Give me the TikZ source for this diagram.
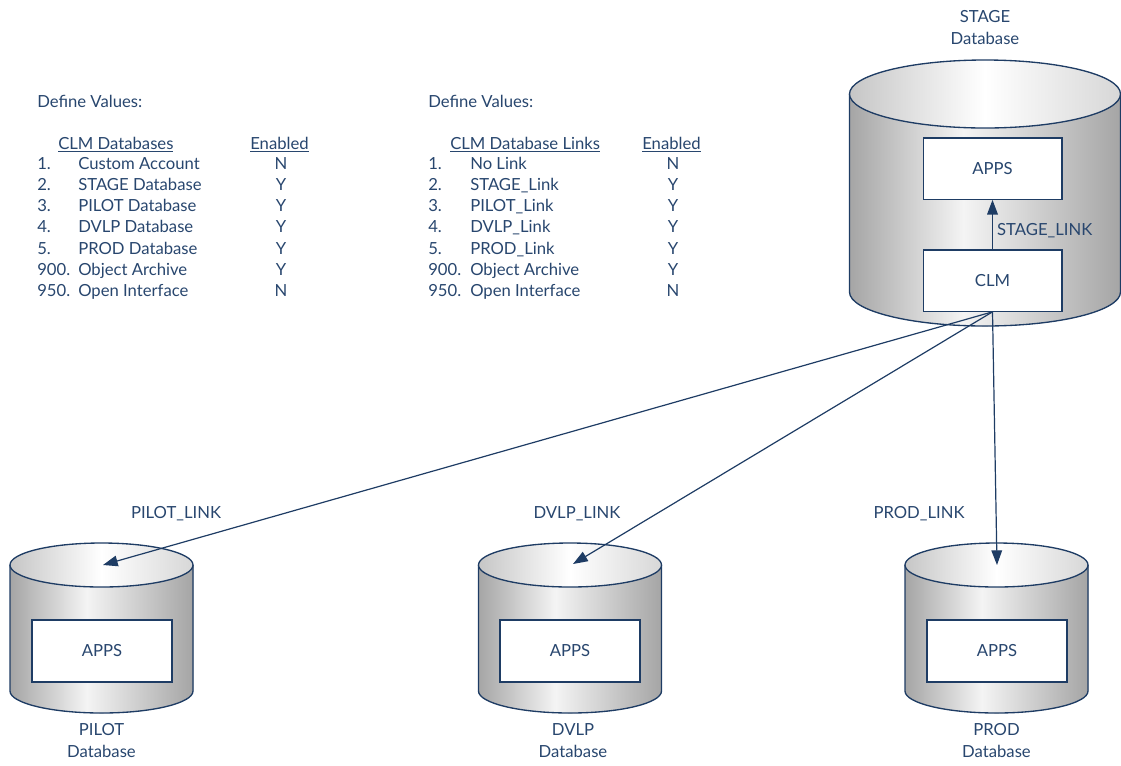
\documentclass[tikz,border=0pt]{standalone}
\usepackage{fontspec}
\setmainfont{Lato}
\usetikzlibrary{arrows.meta}
\definecolor{dbtext}{RGB}{40,70,110}
\definecolor{dbline}{RGB}{30,60,100}
\definecolor{dbedge}{RGB}{165,165,165}
\definecolor{dbrim}{RGB}{198,198,198}
\definecolor{dblight}{RGB}{244,244,244}
\definecolor{dbpale}{RGB}{215,215,215}
\pgfdeclarehorizontalshading{dbbody}{100bp}{color(0bp)=(dbedge); color(25bp)=(dbedge); color(46bp)=(dblight); color(75bp)=(dbedge); color(100bp)=(dbedge)}
\pgfdeclarehorizontalshading{dbtop}{100bp}{color(0bp)=(dbrim); color(25bp)=(dbrim); color(50bp)=(white); color(75bp)=(dbpale); color(100bp)=(dbpale)}
\tikzset{
    dbwall/.style={draw=dbline, line width=1pt},
    appbox/.style={draw=dbline, line width=1pt, fill=white, inner sep=0pt},
    link/.style={draw=dbline, line width=0.9pt, -{Triangle[length=11pt,width=8pt]}},
    tabtext/.style={anchor=west, inner sep=0pt, text height=9pt, text depth=0pt},
    dblabel/.style={align=center, inner sep=0pt},
}
% cx, y of top ellipse, y of bottom ellipse, rx, ry
\newcommand{\dbcylinder}[5]{%
    \fill[shade, shading=dbbody] ({#1-#4},#2) -- ({#1-#4},#3) arc[start angle=180, end angle=0, x radius=#4, y radius=#5] -- ({#1+#4},#2) -- cycle;
    \draw[dbwall] ({#1-#4},#2) -- ({#1-#4},#3) arc[start angle=180, end angle=0, x radius=#4, y radius=#5] -- ({#1+#4},#2);
    \draw[dbwall, shade, shading=dbtop] (#1,#2) ellipse[x radius=#4, y radius=#5];
}
\begin{document}
\begin{tikzpicture}[x=0.75pt, y=-0.75pt, font=\fontsize{12.5}{16.5}\selectfont, every node/.style={text=dbtext}]
        \useasboundingbox (0,0) rectangle (1121,765);

        \dbcylinder{985}{94}{292}{135.5}{34}
        \dbcylinder{101.5}{565}{691}{91.5}{22}
        \dbcylinder{570}{565}{691}{91.5}{22}
        \dbcylinder{996.5}{565}{691}{91.5}{22}

        \node[appbox, minimum width=104pt, minimum height=46pt] (stageapps) at (992.5,168.5) {APPS};
        \node[appbox, minimum width=104pt, minimum height=46pt] (stageclm) at (992.5,280.5) {CLM};
        \node[appbox, minimum width=105pt, minimum height=46.5pt] (pilotapps) at (102,651) {APPS};
        \node[appbox, minimum width=105pt, minimum height=46.5pt] (dvlpapps) at (570,651) {APPS};
        \node[appbox, minimum width=105pt, minimum height=46.5pt] (prodapps) at (997,651) {APPS};

        \node[dblabel] (stagename) at (985,28) {STAGE\\Database};
        \node[dblabel] (pilotname) at (101.5,741) {PILOT\\Database};
        \node[dblabel] (dvlpname) at (573,741) {DVLP\\Database};
        \node[dblabel] (prodname) at (996.5,741) {PROD\\Database};

        \node[dblabel] (pilotlink) at (176,514) {PILOT\_LINK};
        \node[dblabel] (dvlplink) at (577,514) {DVLP\_LINK};
        \node[dblabel] (prodlink) at (919,514) {PROD\_LINK};

        \coordinate (pilottop) at (103,565);
        \coordinate (dvlptop) at (573,564);
        \coordinate (prodtop) at (997,565);

        \draw[link] (stageclm) -- node[right, pos=0.38, inner sep=3pt] (stagelink) {STAGE\_LINK} (stageapps);
        \draw[link] (stageclm.south) -- (pilottop);
        \draw[link] (stageclm.south) -- (dvlptop);
        \draw[link] (stageclm.south) -- (prodtop);

        \node[tabtext] (lefttitle) at (37,101) {Define Values:};
        \node[tabtext] (lefthead) at (58,143) {\underline{CLM Databases}};
        \node[tabtext, anchor=center] (leftflaghead) at (279.5,143) {\underline{Enabled}};
        \foreach \num/\name/\flag [count=\i from 0] in {1./Custom Account/N, 2./STAGE Database/Y, 3./PILOT Database/Y, 4./DVLP Database/Y, 5./PROD Database/Y, 900./Object Archive/Y, 950./Open Interface/N} {
            \node[tabtext] (leftnum\i) at (37,{163+21.33*\i}) {\num};
            \node[tabtext] (leftname\i) at (78,{163+21.33*\i}) {\name};
            \node[tabtext, anchor=center] (leftflag\i) at (281,{163+21.33*\i}) {\flag};
        }

        \node[tabtext] (righttitle) at (428,101) {Define Values:};
        \node[tabtext] (righthead) at (450,143) {\underline{CLM Database Links}};
        \node[tabtext, anchor=center] (rightflaghead) at (671.5,143) {\underline{Enabled}};
        \foreach \num/\name/\flag [count=\i from 0] in {1./No Link/N, 2./STAGE\_Link/Y, 3./PILOT\_Link/Y, 4./DVLP\_Link/Y, 5./PROD\_Link/Y, 900./Object Archive/Y, 950./Open Interface/N} {
            \node[tabtext] (rightnum\i) at (428,{163+21.33*\i}) {\num};
            \node[tabtext] (rightname\i) at (470,{163+21.33*\i}) {\name};
            \node[tabtext, anchor=center] (rightflag\i) at (673,{163+21.33*\i}) {\flag};
        }
    \end{tikzpicture}
\end{document}
